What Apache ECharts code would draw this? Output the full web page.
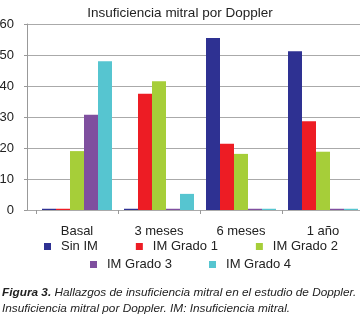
<!DOCTYPE html>
<html>
<head>
<meta charset="utf-8">
<script src="https://cdn.jsdelivr.net/npm/echarts@6/dist/echarts.min.js"></script>
<style>
	html, body { margin: 0; padding: 0; background: #fff; }
	#chart { width: 360px; height: 321px; }
</style>
</head>
<body>
<div id="chart"></div>
<script>
//分类与数据
var categories = ['Basal', '3 meses', '6 meses', '1 año'];
var seriesNames = ['Sin IM', 'IM Grado 1', 'IM Grado 2', 'IM Grado 3', 'IM Grado 4'];
var sinIM = [0.4, 0.4, 55.5, 51.2];
var grado1 = [0.4, 37.5, 21.4, 28.6];
var grado2 = [19.0, 41.5, 18.1, 18.8];
var grado3 = [30.7, 0.4, 0.4, 0.4];
var grado4 = [48.0, 5.2, 0.4, 0.4];
var yTicks = [0, 10, 20, 30, 40, 50, 60];

var colors = ['#2e3192', '#ed1c24', '#a6ce39', '#7f4f9f', '#56c5d0'];
var seriesData = [sinIM, grado1, grado2, grado3, grado4];
var fontName = 'Liberation Sans';

var chart = echarts.init(document.getElementById('chart'));

var series = [];
for (var i = 0; i < seriesNames.length; i++) {
	series.push({
		name: seriesNames[i],
		type: 'bar',
		xAxisIndex: 1,
		yAxisIndex: 1,
		data: seriesData[i],
		barWidth: 14,
		barGap: '0%',
		itemStyle: { color: colors[i] },
		silent: true
	});
}

var option = {
	animation: false,
	color: colors,
	title: {
		text: 'Insuficiencia mitral por Doppler',
		left: 'center',
		top: 1,
		textStyle: { fontFamily: fontName, fontSize: 13.5, fontWeight: 'normal', color: '#222' }
	},
	grid: [
		//刻度与网格线
		{ left: 27, right: 0, top: 24, height: 186, outerBoundsMode: 'none', containLabel: false },
		//柱状图
		{ left: 36, right: -4, top: 24, height: 186, outerBoundsMode: 'none', containLabel: false }
	],
	legend: [{
		data: seriesNames.slice(0, 3),
		left: 39,
		top: 235,
		icon: 'rect',
		itemWidth: 7,
		itemHeight: 7,
		itemGap: 38,
		textStyle: { fontFamily: fontName, fontSize: 13, color: '#222', padding: [0, 0, 0, 5] }
	}, {
		data: seriesNames.slice(3),
		left: 85,
		top: 253,
		icon: 'rect',
		itemWidth: 7,
		itemHeight: 7,
		itemGap: 37,
		textStyle: { fontFamily: fontName, fontSize: 13, color: '#222', padding: [0, 0, 0, 5] }
	}],
	xAxis: [{
		gridIndex: 0,
		type: 'category',
		data: [''],
		show: false
	}, {
		gridIndex: 1,
		type: 'category',
		data: categories,
		axisLine: { show: false },
		axisTick: { show: true, length: 4, lineStyle: { color: '#999' } },
		axisLabel: { fontFamily: fontName, fontSize: 13, color: '#222', margin: 15 }
	}],
	yAxis: [{
		gridIndex: 0,
		type: 'value',
		min: yTicks[0],
		max: yTicks[yTicks.length - 1],
		interval: 10,
		axisLine: { show: true, lineStyle: { color: '#999' } },
		axisTick: { show: true, length: 3, lineStyle: { color: '#999' } },
		axisLabel: { fontFamily: fontName, fontSize: 13, color: '#222', margin: 13 },
		splitLine: { show: true, lineStyle: { color: '#aaa', width: 1 } }
	}, {
		gridIndex: 1,
		type: 'value',
		min: 0,
		max: 60,
		show: false,
		splitLine: { show: false }
	}],
	graphic: [{
		type: 'text',
		left: 2,
		top: 287,
		style: {
			text: '{b|Figura 3.} Hallazgos de insuficiencia mitral en el estudio de Doppler.',
			font: 'italic 11.8px "Liberation Sans"',
			fill: '#222',
			rich: {
				b: { fontWeight: 'bold', fontStyle: 'italic', fontSize: 11.8, fontFamily: 'Liberation Sans', fill: '#222' }
			}
		}
	}, {
		type: 'text',
		left: 2,
		top: 303,
		style: {
			text: 'Insuficiencia mitral por Doppler. IM: Insuficiencia mitral.',
			font: 'italic 11.8px "Liberation Sans"',
			fill: '#222'
		}
	}],
	series: series
};

chart.setOption(option);
</script>
</body>
</html>
